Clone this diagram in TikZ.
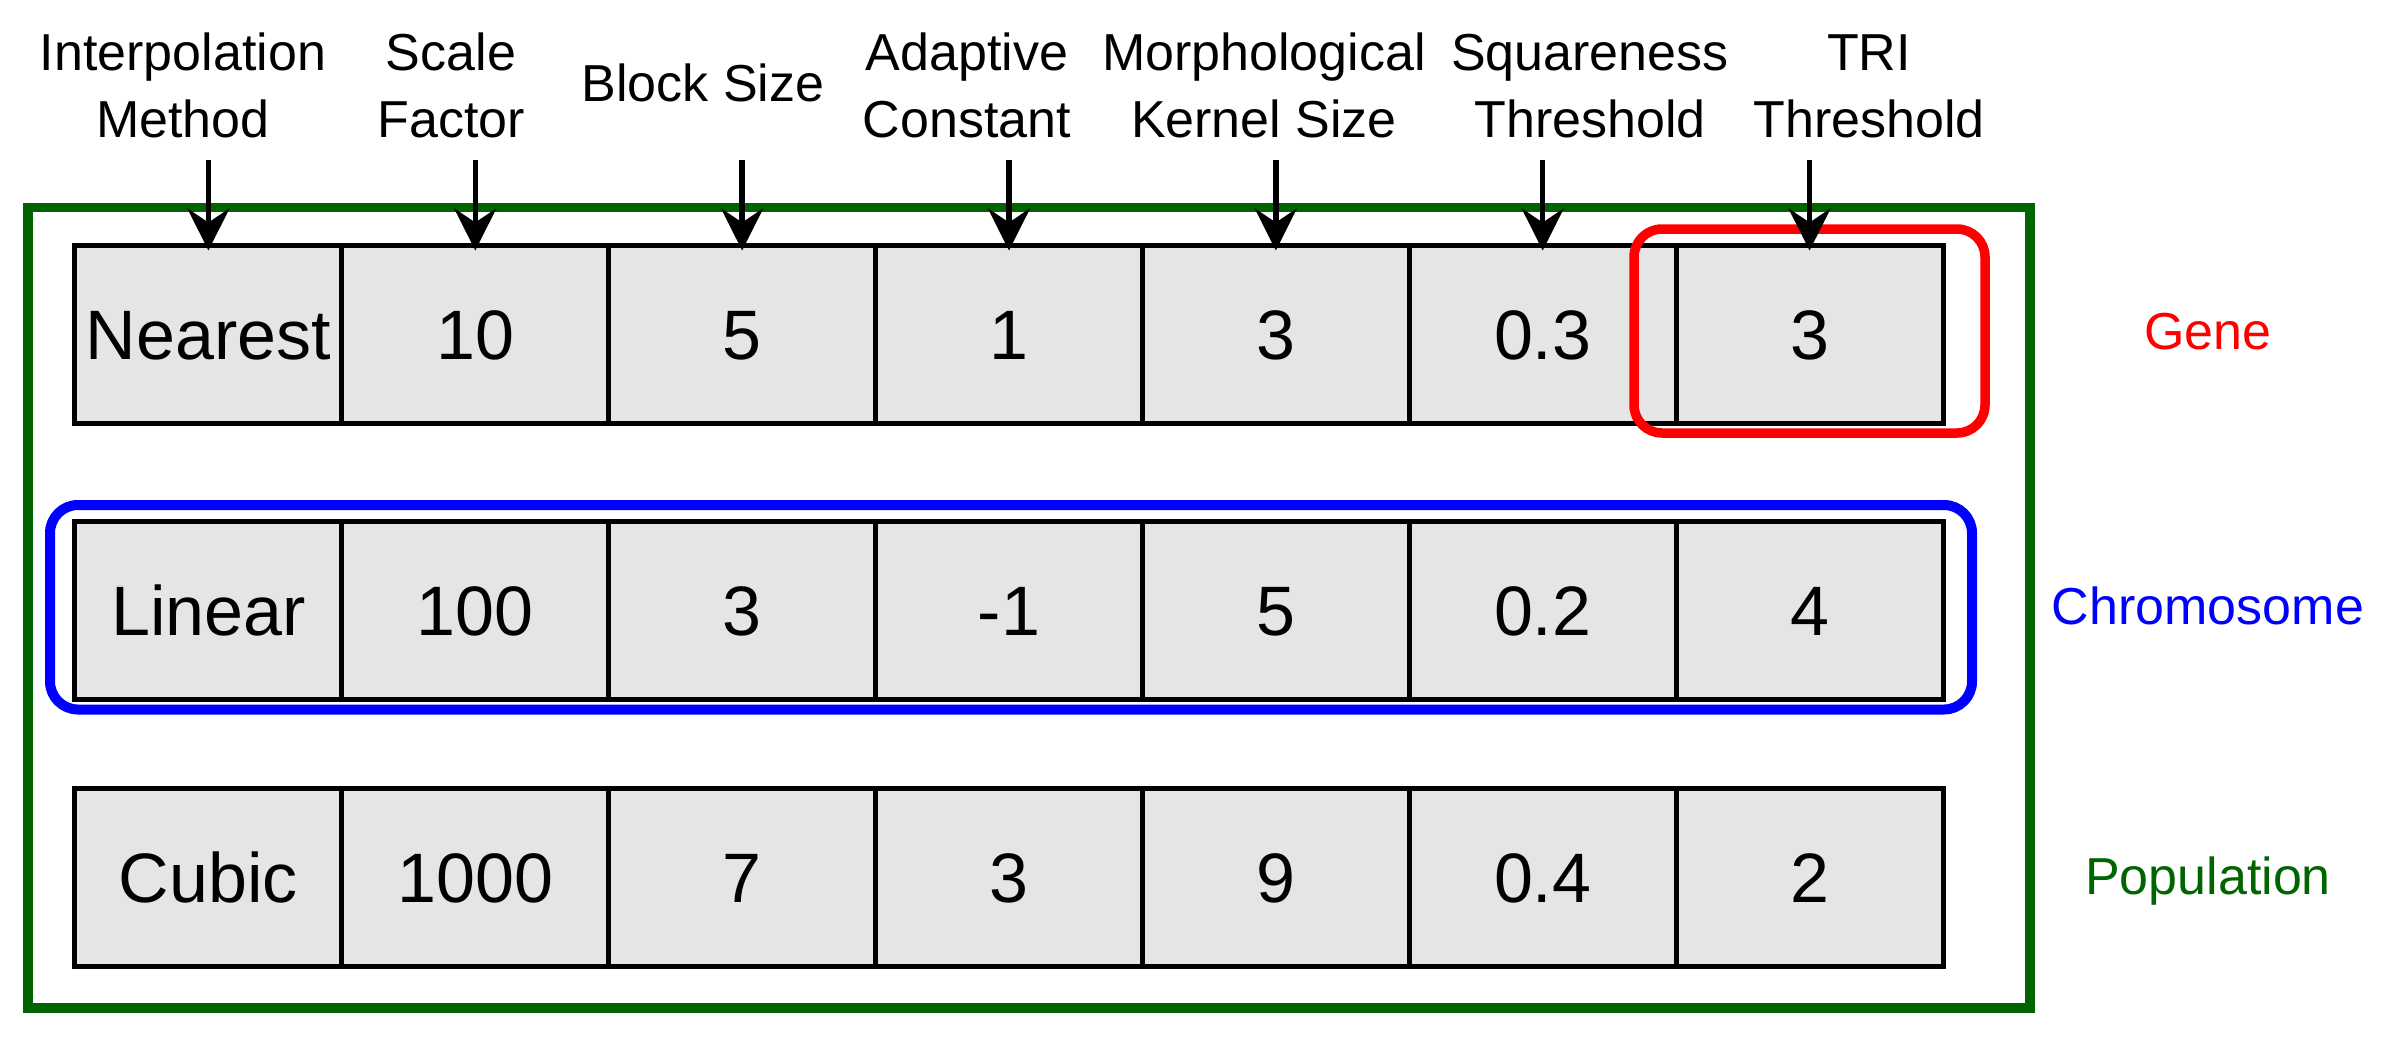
\documentclass[tikz,border=0pt]{standalone}
\usepackage{fontspec}
\setmainfont{Liberation Sans}
\usetikzlibrary{arrows.meta}
\definecolor{frameGreen}{RGB}{0,100,0}
\definecolor{cellGray}{RGB}{229,229,229}
\definecolor{geneRed}{RGB}{255,0,0}
\definecolor{chromBlue}{RGB}{0,0,255}
\begin{document}
\begin{tikzpicture}[x=1pt,y=-1pt,
  cellbox/.style={draw=black, line width=5pt, fill=cellGray, minimum width=266.86pt,
    minimum height=178pt, inner sep=0pt, font=\fontsize{70}{80}\selectfont,
    text height=50pt, text depth=0pt},
  hdr/.style={font=\fontsize{52}{62}\selectfont, inner sep=0pt, anchor=base},
  side/.style={font=\fontsize{52}{62}\selectfont, inner sep=0pt, text height=37pt, text depth=0pt},
  arr/.style={line width=5.5pt, -{Stealth[length=42pt 0,width=42pt 0,inset=14pt 0]}},
  frameline/.style={draw=frameGreen, line width=9.5pt},
  groupbox/.style={line width=10pt, rounded corners=28pt},
]
\useasboundingbox (0,0) rectangle (2390,1037);

% population frame
\draw[frameline] (28,207.5) rectangle (2030,1008);

% cells
\foreach \v [count=\i] in {Nearest,10,5,1,3,0.3,3}
  \node[cellbox] (c1\i) at ({75+266.857*(\i-0.5)},334) {\v};
\foreach \v [count=\i] in {Linear,100,3,-1,5,0.2,4}
  \node[cellbox] (c2\i) at ({75+266.857*(\i-0.5)},610) {\v};
\foreach \v [count=\i] in {Cubic,1000,7,3,9,0.4,2}
  \node[cellbox] (c3\i) at ({75+266.857*(\i-0.5)},877) {\v};

% gene and chromosome boxes
\draw[groupbox, draw=geneRed, line width=9.5pt] (1634,229) rectangle (1985,433);
\draw[groupbox, draw=chromBlue] (50,505) rectangle (1972,709.5);

% header labels
\node[hdr] (h1a) at (183,70) {Interpolation};
\node[hdr] (h1b) at (183,137) {Method};
\node[hdr] (h2a) at (451,70) {Scale};
\node[hdr] (h2b) at (451,137) {Factor};
\node[hdr] (h3) at (703,101) {Block Size};
\node[hdr] (h4a) at (967,70) {Adaptive};
\node[hdr] (h4b) at (967,137) {Constant};
\node[hdr] (h5a) at (1264,70) {Morphological};
\node[hdr] (h5b) at (1264,137) {Kernel Size};
\node[hdr] (h6a) at (1590,70) {Squareness};
\node[hdr] (h6b) at (1590,137) {Threshold};
\node[hdr] (h7a) at (1869,70) {TRI};
\node[hdr] (h7b) at (1869,137) {Threshold};

% arrows
\foreach \i in {1,...,7} {
  \coordinate (s\i) at (c1\i.north |- 0,160);
  \draw[arr] (s\i) -- ([yshift=-8pt]c1\i.north);
}

% side labels
\node[side, text=geneRed] (gene) at (2208,331) {Gene};
\node[side, text=chromBlue] (chrom) at (2208,606) {Chromosome};
\node[side, text=frameGreen] (pop) at (2208,876) {Population};
\end{tikzpicture}
\end{document}
